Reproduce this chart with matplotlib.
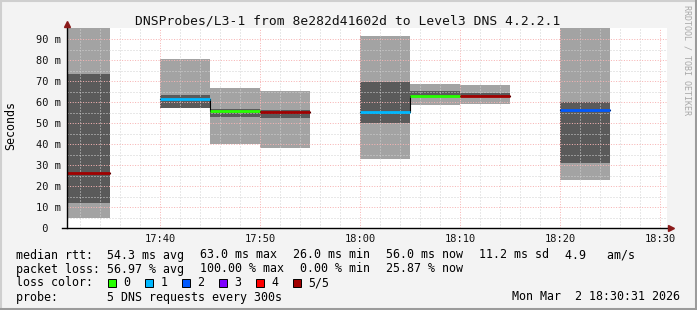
import matplotlib
matplotlib.use("Agg")
import matplotlib.pyplot as plt
import numpy as np
from matplotlib.patches import Rectangle
from matplotlib.lines import Line2D
from matplotlib.transforms import blended_transform_factory, offset_copy

plt.rcParams['font.family'] = 'DejaVu Sans Mono'

W, H = 697, 310
STEP = 5  # one probe round every 300 s

# probe rounds, minutes after 17:00
starts = [30, 40, 45, 50, 60, 65, 70, 80]
smoke_lo = [4.9, 57.3, 40.1, 38.2, 33.0, 58.7, 59.2, 23.0]
smoke_hi = [99.0, 80.4, 66.7, 65.3, 91.4, 68.6, 68.1, 99.0]
core_lo = [12.0, 57.3, 53.0, 52.5, 50.1, 63.0, 62.9, 31.0]
core_hi = [73.3, 63.3, 56.5, 56.2, 69.6, 65.3, 64.3, 60.0]
median = [26.0, 61.5, 55.9, 55.2, 55.2, 63.0, 62.9, 56.0]
lost = [5, 1, 0, 5, 1, 0, 5, 2]

loss_labels = ["0", "1", "2", "3", "4", "5/5"]
loss_colors = ["#26ff00", "#00b8ff", "#0059ff", "#7e00ff", "#ff0000", "#a10000"]

xticks = [40, 50, 60, 70, 80, 90]
xticklabels = ["17:40", "17:50", "18:00", "18:10", "18:20", "18:30"]
yticks = [0, 10, 20, 30, 40, 50, 60, 70, 80, 90]

title = "DNSProbes/L3-1 from 8e282d41602d to Level3 DNS 4.2.2.1"
rtt_items = ["median rtt:  54.3 ms avg", "63.0 ms max", "26.0 ms min",
             "56.0 ms now", "11.2 ms sd", "4.9   am/s"]
loss_items = ["packet loss: 56.97 % avg", "100.00 % max", "0.00 % min", "25.87 % now"]
probe_line = "probe:       5 DNS requests every 300s"
stamp = "Mon Mar  2 18:30:31 2026"


def px(x, y):
    return x / W, 1 - y / H


fig = plt.figure(figsize=(W / 100, H / 100), dpi=100, facecolor='#f3f3f3')
ax = fig.add_axes([67 / W, 1 - 228 / H, 600 / W, 200 / H])
ax.set_facecolor('white')
ax.set_xlim(30.7, 90.7)
ax.set_ylim(0, 95.24)

# smoke
ax.bar(starts, np.subtract(smoke_hi, smoke_lo), bottom=smoke_lo, width=STEP,
       align='edge', color='#a3a3a3', lw=0, zorder=1)
ax.bar(starts, np.subtract(core_hi, core_lo), bottom=core_lo, width=STEP,
       align='edge', color='#5a5a5a', lw=0, zorder=1.1)

# grid on top of the smoke, like rrdtool
ax.set_xticks(xticks)
ax.set_xticklabels(xticklabels)
ax.set_xticks(np.arange(32, 91, 2), minor=True)
ax.set_yticks(yticks)
ax.set_yticklabels([])
ax.set_yticks(np.arange(5, 90, 10), minor=True)
ax.set_axisbelow(False)
ax.grid(which='major', color='#f7b4b4', lw=0.72, ls=(0, (1, 1.6)))
ax.grid(which='minor', color='#d2d2d2', lw=0.72, ls=(0, (1, 2)))
ax.tick_params(which='both', length=0)
ax.tick_params(axis='x', labelsize=7.5, pad=4.3, colors='#111111')
for s in ax.spines.values():
    s.set_visible(False)

# median: black connector through back-to-back rounds, coloured by loss
ends = [s + STEP for s in starts]
run_x, run_y = [starts[0]], [median[0]]
for i in range(1, len(starts)):
    if starts[i] != ends[i - 1]:
        run_x.append(ends[i - 1]); run_y.append(median[i - 1])
        ax.step(run_x, run_y, where='post', color='black', lw=0.8, zorder=2.7)
        run_x, run_y = [], []
    run_x.append(starts[i]); run_y.append(median[i])
run_x.append(ends[-1]); run_y.append(median[-1])
ax.step(run_x, run_y, where='post', color='black', lw=0.8, zorder=2.7)
ax.hlines(median, starts, ends, colors=[loss_colors[n] for n in lost], lw=2.0, zorder=3)

# axes with arrow heads
ax.plot([-0.0083, 1.0033], [0, 0], transform=ax.transAxes, color='black', lw=1,
        clip_on=False, zorder=4)
ax.plot([0, 0], [0, 1.015], transform=ax.transAxes, color='black', lw=1,
        clip_on=False, zorder=4)
ax.plot([0], [1.02], transform=ax.transAxes, marker='^', ms=4.2, color='#8b1a1a',
        clip_on=False, zorder=5)
ax.plot([1.0067], [0], transform=ax.transAxes, marker='>', ms=4.2, color='#8b1a1a',
        clip_on=False, zorder=5)

# y tick labels, rrdtool style "%2d m"
ytrans = offset_copy(blended_transform_factory(fig.transFigure, ax.transData),
                     fig=fig, y=-3.8, units='dots')
for v in yticks:
    lab = " 0" if v == 0 else f"{v:2d} m"
    ax.text(36 / W, v, lab, transform=ytrans, ha='left', va='baseline',
            fontsize=7.5, color='#111111', clip_on=False)

fig.text(*px(348, 24), title, ha='center', va='baseline', fontsize=9.37, color='#111111')
fig.text(*px(11, 126), "Seconds", rotation=90, ha='center', va='center', fontsize=8.4)
fig.text(*px(687, 60), "RRDTOOL / TOBI OETIKER", rotation=270, ha='center',
         va='center', fontsize=6, color='#a8a8a8')

# legend rows
adv, gap = 7.03, 15.67
for items, y in [(rtt_items, 258.5), (loss_items, 272.5)]:
    x = 16
    for it in items:
        fig.text(*px(x, y), it, ha='left', va='baseline', fontsize=8.4)
        x += len(it) * adv + gap

fig.text(*px(16, 286.5), "loss color:", ha='left', va='baseline', fontsize=8.4)
bx = 108.3
for lab, col in zip(loss_labels, loss_colors):
    x0, y0 = px(bx, 286.7)
    fig.add_artist(Rectangle((x0, y0), 7.4 / W, 7.4 / H, transform=fig.transFigure,
                             facecolor=col, edgecolor='black', lw=0.7))
    fig.text(*px(bx + 15, 286.5), lab, ha='left', va='baseline', fontsize=8.4)
    bx += 37

fig.text(*px(16, 300.5), probe_line, ha='left', va='baseline', fontsize=8.4)
fig.text(*px(680, 300.5), stamp, ha='right', va='baseline', fontsize=8.4)

# frame
fig.add_artist(Line2D([0, 1], [1 - 1 / H, 1 - 1 / H], transform=fig.transFigure, color='#cfcfcf', lw=1.5))
fig.add_artist(Line2D([1 / W, 1 / W], [0, 1], transform=fig.transFigure, color='#cfcfcf', lw=1.5))
fig.add_artist(Line2D([0, 1], [1.5 / H, 1.5 / H], transform=fig.transFigure, color='#9b9b9b', lw=2.2))
fig.add_artist(Line2D([1 - 1.5 / W, 1 - 1.5 / W], [0, 1], transform=fig.transFigure, color='#9b9b9b', lw=2.2))

fig.savefig("out.png", dpi=100, facecolor=fig.get_facecolor())
